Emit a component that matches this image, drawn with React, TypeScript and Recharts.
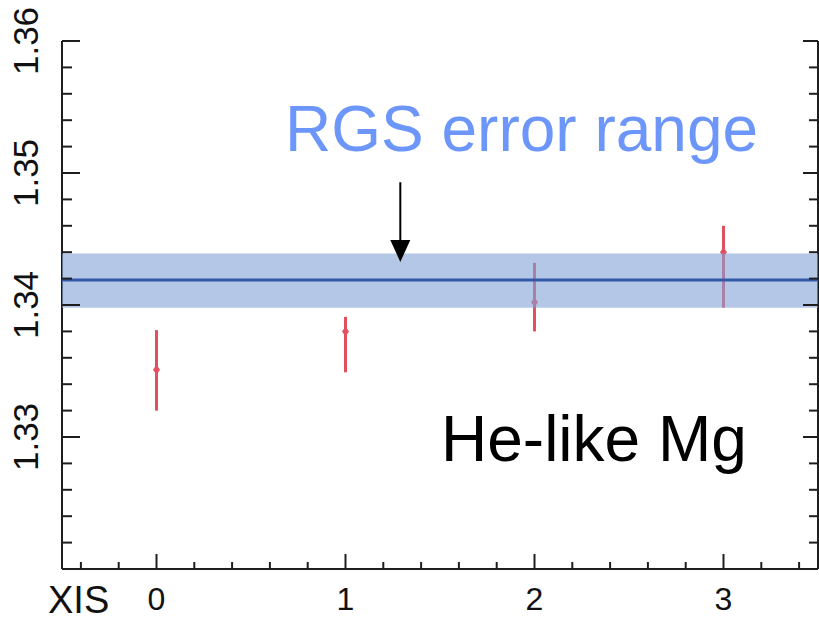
import React from 'react';
import {
  ComposedChart,
  Scatter,
  XAxis,
  YAxis,
  ErrorBar,
  ReferenceArea,
  ReferenceLine,
  ReferenceDot,
} from 'recharts';

// XIS sensor index
const xisIds = [0, 1, 2, 3];
// measured line energy (keV) and asymmetric errors
const lineCenters = [1.3351, 1.338, 1.3402, 1.344];
const errLow = [0.0031, 0.0031, 0.0022, 0.0042];
const errHigh = [0.003, 0.0011, 0.003, 0.002];

// RGS result
const rgsBest = [1.3419];
const rgsRange = [1.3398, 1.3439];

// axis ticks
const xTicks = [-0.4, -0.2, 0, 0.2, 0.4, 0.6, 0.8, 1, 1.2, 1.4, 1.6, 1.8, 2, 2.2, 2.4, 2.6, 2.8, 3, 3.2, 3.4];
const yTicks = [
  1.322, 1.324, 1.326, 1.328, 1.33, 1.332, 1.334, 1.336, 1.338, 1.34, 1.342, 1.344, 1.346, 1.348, 1.35,
  1.352, 1.354, 1.356, 1.358, 1.36,
];
const xDomain = [-0.5, 3.5];
const yDomain = [1.32, 1.36];

// annotation anchor (arrow)
const arrowX = [1.29];
const arrowY = [1.3493, 1.34455, 1.34326];

const data = xisIds.map((id, i) => ({
  xis: id,
  energy: lineCenters[i],
  err: [errLow[i], errHigh[i]],
}));

const FONT = '"Liberation Sans", Arial, Helvetica, sans-serif';
const AXIS = '#1e1e1e';

const isIntX = (v: number) => Math.abs(v - Math.round(v)) < 1e-6;
const isMajorY = (v: number) => Math.abs(v * 100 - Math.round(v * 100)) < 1e-6;

const BottomTick = (props: any) => {
  const { x, y, payload } = props;
  const v = payload.value as number;
  const major = isIntX(v);
  return (
    <g>
      <line x1={x} x2={x} y1={y} y2={y - (major ? 15 : 7)} stroke={AXIS} strokeWidth={2} />
      {major && (
        <text
          x={x}
          y={y + 41}
          textAnchor="middle"
          style={{ fontSize: '32px', fontFamily: FONT }}
          fill="#111"
        >
          {String(Math.round(v))}
        </text>
      )}
    </g>
  );
};

const TopTick = (props: any) => {
  const { x, y, payload } = props;
  const v = payload.value as number;
  const major = isIntX(v);
  return <line x1={x} x2={x} y1={y} y2={y + (major ? 16 : 9)} stroke={AXIS} strokeWidth={2} />;
};

const LeftTick = (props: any) => {
  const { x, y, payload } = props;
  const v = payload.value as number;
  const major = isMajorY(v);
  return (
    <g>
      <line x1={x} x2={x + (major ? 18 : 10)} y1={y} y2={y} stroke={AXIS} strokeWidth={2} />
      {major && (
        <text
          transform={`translate(38, ${y}) rotate(-90)`}
          textAnchor="middle"
          style={{ fontSize: '35px', fontFamily: FONT }}
          fill="#111"
        >
          {v.toFixed(2)}
        </text>
      )}
    </g>
  );
};

const RightTick = (props: any) => {
  const { x, y, payload } = props;
  const v = payload.value as number;
  const major = isMajorY(v);
  return <line x1={x} x2={x - (major ? 15 : 9)} y1={y} y2={y} stroke={AXIS} strokeWidth={2} />;
};

const ErrPoint = (props: any) => {
  const { cx, cy } = props;
  return <path d={`M${cx},${cy - 5} L${cx + 3.5},${cy} L${cx},${cy + 5} L${cx - 3.5},${cy} Z`} fill="#e0505e" />;
};

const ArrowHead = (props: any) => {
  const { cx, cy } = props;
  return <path d={`M${cx},${cy} L${cx - 10},${cy - 22} L${cx + 10},${cy - 22} Z`} fill="#000" />;
};

export default function App() {
  return (
    <div style={{ position: 'absolute', left: 0, top: 0, width: 819, height: 621, background: '#fff' }}>
      <ComposedChart
        width={819}
        height={621}
        data={data}
        margin={{ top: 41, right: 0, bottom: 0, left: 0 }}
        style={{ fontFamily: FONT }}
      >
        <XAxis
          xAxisId="b"
          dataKey="xis"
          type="number"
          domain={xDomain}
          ticks={xTicks}
          interval={0}
          allowDataOverflow
          orientation="bottom"
          height={52}
          tickSize={0}
          tickMargin={0}
          tickLine={false}
          axisLine={{ stroke: AXIS, strokeWidth: 2 }}
          tick={<BottomTick />}
        />
        <XAxis
          xAxisId="t"
          type="number"
          domain={xDomain}
          ticks={xTicks}
          interval={0}
          allowDataOverflow
          orientation="top"
          height={0}
          tickSize={0}
          tickMargin={0}
          tickLine={false}
          axisLine={{ stroke: AXIS, strokeWidth: 2 }}
          tick={<TopTick />}
        />
        <YAxis
          yAxisId="l"
          type="number"
          domain={yDomain}
          ticks={yTicks}
          interval={0}
          allowDataOverflow
          orientation="left"
          width={62}
          tickSize={0}
          tickMargin={0}
          tickLine={false}
          axisLine={{ stroke: AXIS, strokeWidth: 2 }}
          tick={<LeftTick />}
        />
        <YAxis
          yAxisId="r"
          type="number"
          domain={yDomain}
          ticks={yTicks}
          interval={0}
          allowDataOverflow
          orientation="right"
          width={1}
          tickSize={0}
          tickMargin={0}
          tickLine={false}
          axisLine={{ stroke: AXIS, strokeWidth: 2 }}
          tick={<RightTick />}
        />
        <Scatter
          xAxisId="b"
          yAxisId="l"
          dataKey="energy"
          isAnimationActive={false}
          shape={<ErrPoint />}
        >
          <ErrorBar dataKey="err" direction="y" width={0} stroke="#e0505e" strokeWidth={3} isAnimationActive={false} />
        </Scatter>
        <ReferenceArea
          xAxisId="b"
          yAxisId="l"
          x1={xDomain[0]}
          x2={xDomain[1]}
          y1={rgsRange[0]}
          y2={rgsRange[1]}
          fill="#82a2d7"
          fillOpacity={0.6}
          stroke="none"
          ifOverflow="hidden"
          zIndex={700}
        />
        <ReferenceLine
          xAxisId="b"
          yAxisId="l"
          y={rgsBest[0]}
          stroke="#3358aa"
          strokeWidth={3}
          zIndex={800}
        />
        <ReferenceLine
          xAxisId="b"
          yAxisId="l"
          segment={[
            { x: arrowX[0], y: arrowY[0] },
            { x: arrowX[0], y: arrowY[1] },
          ]}
          stroke="#000"
          strokeWidth={2}
          zIndex={900}
        />
        <ReferenceDot
          xAxisId="b"
          yAxisId="l"
          x={arrowX[0]}
          y={arrowY[2]}
          r={0}
          shape={<ArrowHead />}
          zIndex={900}
        />
        <text x={285} y={151} fontSize={64} fontFamily={FONT} fill="#6d96fb">
          RGS error range
        </text>
        <text x={441} y={461} fontSize={64} fontFamily={FONT} fill="#000">
          He-like Mg
        </text>
        <text x={48} y={613} fontSize={38} fontFamily={FONT} fill="#111">
          XIS
        </text>
      </ComposedChart>
    </div>
  );
}
